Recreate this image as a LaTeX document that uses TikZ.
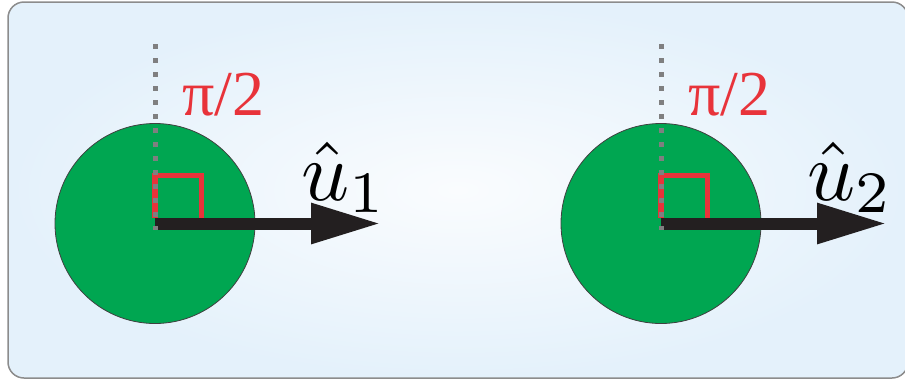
\documentclass[tikz,border=0pt]{standalone}
\usepackage{fontspec}
\setmainfont{Liberation Serif}
\usetikzlibrary{arrows.meta,positioning}
\definecolor{ballgreen}{HTML}{00A651}
\definecolor{anglered}{HTML}{E8333A}
\definecolor{guidegray}{HTML}{7F7F80}
\definecolor{vecblack}{HTML}{231F20}
\definecolor{boxedge}{HTML}{8C8C8C}
\definecolor{boxblue}{HTML}{E4F1FB}
\definecolor{boxwhite}{HTML}{FAFCFE}
\newcommand{\bigvec}[1]{\scalebox{4.2}{$\hat{u}_{#1}$}}

\begin{document}
\begin{tikzpicture}[x=0.5pt, y=-0.5pt,
        ball/.style={circle, fill=ballgreen, draw=black!75, line
        width=0.4pt, minimum size=100pt, inner sep=0pt},
        vec/.style={-{Triangle[length=35pt, width=19pt]}, line
        width=6pt, vecblack},
        guide/.style={guidegray, line width=2.5pt, dash pattern=on
        2.5pt off 4.5pt},
        rightangle/.style={anglered, line width=2.6pt},
        anglelabel/.style={text=anglered, inner sep=0pt, anchor=base
        west, font=\fontsize{32}{38}\selectfont},
        veclabel/.style={inner sep=0pt, anchor=base west,
        font=\fontsize{10}{12}\selectfont},
      ]
      \useasboundingbox (0,0) rectangle (905,381);

      % frame
      \draw[rounded corners=8pt, boxedge, line width=0.75pt, inner
      color=boxwhite, outer color=boxblue] (8,2) rectangle (908,378);

      \foreach \k/\cx in {1/155, 2/661} {
        \node[ball] (ball\k) at (\cx,223.5) {};
        \coordinate (tip\k) at ({\cx+226},223.5);
        \coordinate (gtop\k) at (\cx,44);
        \coordinate (gbot\k) at (\cx,230);
        \coordinate (ra\k) at (\cx,218);
        \coordinate (rb\k) at (\cx,175.5);
        \coordinate (rc\k) at ({\cx+46.5},175.5);
        \coordinate (rd\k) at ({\cx+46.5},218);

        \draw[rightangle] (ra\k) -- (rb\k) -- (rc\k) -- (rd\k);
        \draw[vec] (ball\k.center) -- (tip\k);
        \draw[guide] (gtop\k) -- (gbot\k);

        \node[anglelabel] (ang\k) at ({\cx+27},115) {π/2};
        \node[veclabel] (u\k) at ({\cx+146},200) {\bigvec{\k}};
      }
    \end{tikzpicture}
\end{document}
